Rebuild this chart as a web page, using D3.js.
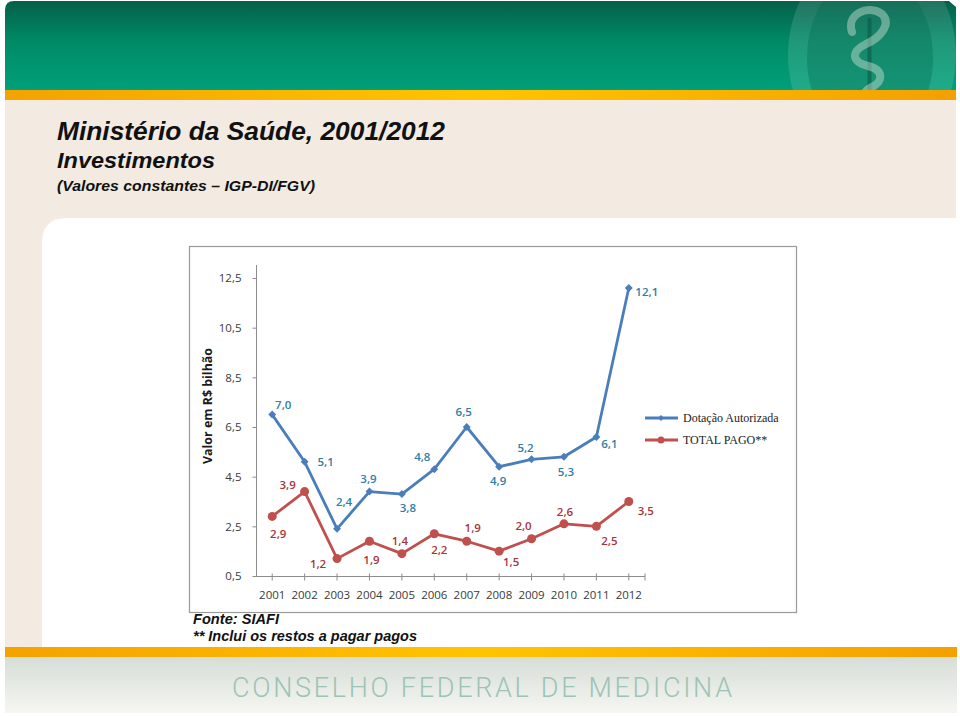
<!DOCTYPE html>
<html><head><meta charset="utf-8">
<script src="https://cdn.jsdelivr.net/npm/d3@7"></script>
<style>body{margin:0;background:#fff;} svg{display:block;}</style>
</head><body><svg id="c" width="960" height="716"></svg>
<script>
// ---------- data ----------
const years = ["2001","2002","2003","2004","2005","2006","2007","2008","2009","2010","2011","2012"];
const dotacao = [7.0, 5.1, 2.4, 3.9, 3.8, 4.8, 6.5, 4.9, 5.2, 5.3, 6.1, 12.1];
const pago    = [2.9, 3.9, 1.2, 1.9, 1.4, 2.2, 1.9, 1.5, 2.0, 2.6, 2.5, 3.5];
const yTicks  = [0.5, 2.5, 4.5, 6.5, 8.5, 10.5, 12.5];
const seriesNames = ["Dotação Autorizada", "TOTAL PAGO**"];
const yTitle = "Valor em R$ bilhão";
const titleLines = ["Ministério da Saúde, 2001/2012", "Investimentos", "(Valores constantes – IGP-DI/FGV)"];
const notes = ["Fonte: SIAFI", "** Inclui os restos a pagar pagos"];
const footerText = "CONSELHO FEDERAL DE MEDICINA";

// label placement offsets (layout only)
const dotacaoLabelOff = [[11,-10],[21,0],[7,-27],[-1,-13],[6,13],[-12,-13],[-3,-16],[-1,14],[-6,-12],[2,15],[13,7],[18,4]];
const pagoLabelOff    = [[6,17],[-17,-7],[-19,5],[2,18],[-2,-13],[5,16],[6,-14],[12,10],[-8,-13],[1,-12],[13,14],[17,9]];

const svg = d3.select("#c");
const defs = svg.append("defs");
const fmt = v => d3.format(".1f")(v).replace(".", ",");

// ---------- background / slide decoration ----------
const gBan = defs.append("linearGradient").attr("id","gBan").attr("x1",0).attr("y1",0).attr("x2",0).attr("y2",1);
gBan.append("stop").attr("offset","0%").attr("stop-color","#05604a");
gBan.append("stop").attr("offset","45%").attr("stop-color","#008a66");
gBan.append("stop").attr("offset","100%").attr("stop-color","#00a07a");
const gOr = defs.append("linearGradient").attr("id","gOr").attr("x1",0).attr("y1",0).attr("x2",1).attr("y2",0);
gOr.append("stop").attr("offset","0%").attr("stop-color","#f4a200");
gOr.append("stop").attr("offset","50%").attr("stop-color","#ffc400");
gOr.append("stop").attr("offset","100%").attr("stop-color","#f4a000");
const gFoot = defs.append("linearGradient").attr("id","gFoot").attr("x1",0).attr("y1",0).attr("x2",0).attr("y2",1);
gFoot.append("stop").attr("offset","0%").attr("stop-color","#d6ddd7");
gFoot.append("stop").attr("offset","100%").attr("stop-color","#f6f6f3");

// banner
svg.append("path").attr("d","M5,90 L5,10 Q5,1 14,1 L949,1 L956,7 L956,90 Z").attr("fill","url(#gBan)");
// logo emblem
const clip = defs.append("clipPath").attr("id","banClip");
clip.append("rect").attr("x",5).attr("y",1).attr("width",951).attr("height",99);
const logo = svg.append("g").attr("clip-path","url(#banClip)");
logo.append("ellipse").attr("cx",872).attr("cy",55).attr("rx",84).attr("ry",105).attr("fill","#ffffff").attr("opacity",0.12);
logo.append("ellipse").attr("cx",870).attr("cy",58).attr("rx",63).attr("ry",86).attr("fill","#006a50").attr("opacity",0.35);
logo.append("rect").attr("x",867.5).attr("y",18).attr("width",4).attr("height",82).attr("fill","#0a5a45").attr("opacity",0.6);
logo.append("path")
  .attr("d","M852,32 C846,14 868,4 882,14 C892,24 880,38 866,44 C850,52 852,62 868,66 C884,70 884,82 870,88 C862,92 866,98 870,102")
  .attr("fill","none").attr("stroke","#cfe3d8").attr("stroke-width",8).attr("stroke-linecap","round").attr("opacity",0.45);
// orange stripe
svg.append("rect").attr("x",5).attr("y",90).attr("width",951).attr("height",10).attr("fill","url(#gOr)");
// beige area
svg.append("rect").attr("x",5).attr("y",100).attr("width",951).attr("height",547).attr("fill","#f3ebe1");
// white panel
svg.append("path").attr("d","M42,647 L42,243 Q42,218 67,218 L956,218 L956,647 Z").attr("fill","#ffffff");
// footer
svg.append("rect").attr("x",5).attr("y",647).attr("width",952).attr("height",10).attr("fill","url(#gOr)");
svg.append("rect").attr("x",5).attr("y",657).attr("width",952).attr("height",56).attr("fill","url(#gFoot)");
svg.append("text").attr("x",232).attr("y",697).attr("textLength",500).attr("lengthAdjust","spacing")
  .attr("font-family","Roboto, 'Liberation Sans Narrow', sans-serif").attr("font-weight",300).attr("font-size",27)
  .attr("fill","#9cc4b4").text(footerText);

// titles
const tFont = "'Liberation Sans Narrow', 'Arial Narrow', 'Liberation Sans', Arial, sans-serif";
const tAttrs = [[57,140,25,388],[57,168,22,158],[57,191,15,258]];
titleLines.forEach((t,i)=>{
  svg.append("text").attr("x",tAttrs[i][0]).attr("y",tAttrs[i][1])
    .attr("font-family",tFont).attr("font-weight","bold").attr("font-style","italic")
    .attr("font-size",tAttrs[i][2]).attr("textLength",tAttrs[i][3]).attr("lengthAdjust","spacingAndGlyphs")
    .attr("fill","#111").text(t);
});

// notes
const nAttrs = [[193,624,86],[193,641,224]];
notes.forEach((t,i)=>{
  svg.append("text").attr("x",nAttrs[i][0]).attr("y",nAttrs[i][1])
    .attr("font-family",tFont).attr("font-weight","bold").attr("font-style","italic")
    .attr("font-size",14).attr("textLength",nAttrs[i][2]).attr("lengthAdjust","spacingAndGlyphs")
    .attr("fill","#111").text(t);
});

// ---------- chart ----------
svg.append("rect").attr("x",189.5).attr("y",246.5).attr("width",607).attr("height",366)
  .attr("fill","#fff").attr("stroke","#9a9a9a").attr("stroke-width",1.2);

const x = d3.scaleBand().domain(years).range([256, 645]);
const cx = d => x(d) + x.bandwidth()/2;
const y = d3.scaleLinear().domain([0.5, 12.5]).range([576, 278]);

const axFont = "'Open Sans', 'Noto Sans', sans-serif";

// y axis
const yAx = svg.append("g").attr("transform","translate(256.5,0)")
  .call(d3.axisLeft(y).tickValues(yTicks).tickFormat(fmt).tickSizeInner(4).tickSizeOuter(0).tickPadding(11));
yAx.select(".domain").attr("stroke","#8c8c8c").attr("d","M0,265V576.5");
yAx.selectAll(".tick line").attr("stroke","#8c8c8c");
yAx.selectAll("text").attr("font-family",axFont).attr("font-size",11.5).attr("fill","#3a3a3a");

// x axis
const xAx = svg.append("g").attr("transform","translate(0,576.5)")
  .call(d3.axisBottom(x).tickSizeInner(4).tickSizeOuter(0).tickPadding(10));
xAx.select(".domain").attr("stroke","#8c8c8c").attr("d","M256,0H645");
xAx.selectAll(".tick line").attr("stroke","#8c8c8c").attr("y1",-3).attr("y2",4);
xAx.selectAll("text").attr("font-family",axFont).attr("font-size",11.5).attr("fill","#3a3a3a");
xAx.append("line").attr("x1",645).attr("x2",645).attr("y1",-3).attr("y2",4).attr("stroke","#8c8c8c");

// y title
svg.append("text").attr("transform","translate(212,406) rotate(-90)").attr("text-anchor","middle")
  .attr("font-family","'Open Sans', 'Liberation Sans', sans-serif").attr("font-weight","bold").attr("font-size",12.5)
  .attr("textLength",116).attr("lengthAdjust","spacingAndGlyphs")
  .attr("fill","#1a1a1a").text(yTitle);

const blue = "#4a7ebb", red = "#c0504d";
const blueLbl = "#2e7ea6", redLbl = "#a8343a";

const line = d3.line().x((d,i)=>cx(years[i])).y(d=>y(d));

function drawSeries(vals, color, marker, lblColor, offs){
  const g = svg.append("g");
  g.append("path").datum(vals).attr("d",line).attr("fill","none").attr("stroke",color)
    .attr("stroke-width",2.8).attr("stroke-linejoin","round");
  if (marker === "diamond") {
    g.selectAll("path.m").data(vals).join("path").attr("class","m")
      .attr("d",d3.symbol(d3.symbolDiamond2, 40)())
      .attr("transform",(d,i)=>`translate(${cx(years[i])},${y(d)})`).attr("fill",color);
  } else {
    g.selectAll("circle").data(vals).join("circle")
      .attr("cx",(d,i)=>cx(years[i])).attr("cy",d=>y(d)).attr("r",4.5).attr("fill",color);
  }
  g.selectAll("text").data(vals).join("text")
    .attr("x",(d,i)=>cx(years[i])+offs[i][0]).attr("y",(d,i)=>y(d)+offs[i][1])
    .attr("text-anchor","middle").attr("dominant-baseline","central")
    .attr("font-family",axFont).attr("font-size",11.5).attr("font-weight",600).attr("fill",lblColor).text(fmt);
}
drawSeries(dotacao, blue, "diamond", blueLbl, dotacaoLabelOff);
drawSeries(pago, red, "circle", redLbl, pagoLabelOff);

// legend
const lg = svg.append("g");
const lgRows = [[418, blue, "diamond"], [440, red, "circle"]];
seriesNames.forEach((n,i)=>{
  const [ly, col, mk] = lgRows[i];
  lg.append("line").attr("x1",645).attr("x2",678).attr("y1",ly).attr("y2",ly).attr("stroke",col).attr("stroke-width",2.8);
  if (mk === "diamond") lg.append("path").attr("d",d3.symbol(d3.symbolDiamond2, 22)()).attr("transform",`translate(661,${ly})`).attr("fill",col);
  else lg.append("circle").attr("cx",661).attr("cy",ly).attr("r",3.5).attr("fill",col);
  lg.append("text").attr("x",683).attr("y",ly+4).attr("font-family","'Liberation Serif', 'DejaVu Serif', serif")
    .attr("font-size",12).attr("fill","#222").text(n);
});
</script></body></html>
